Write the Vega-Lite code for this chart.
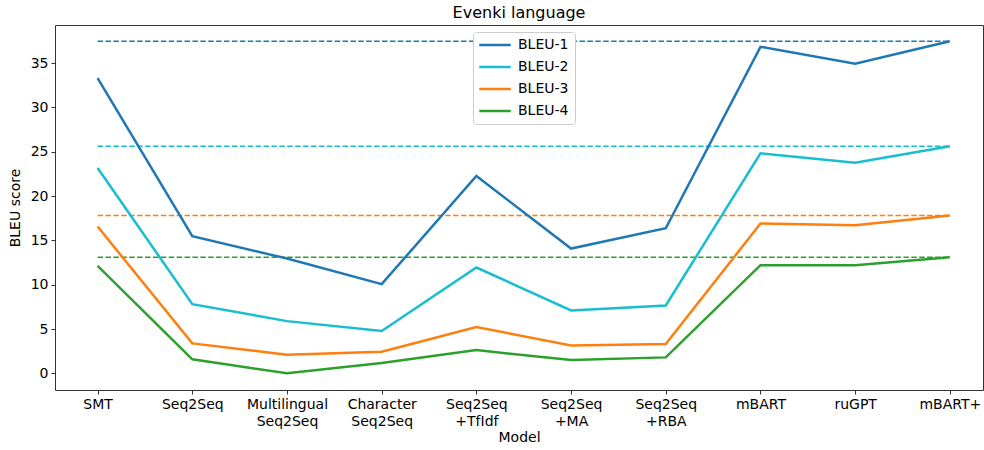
{
  "$schema": "https://vega.github.io/schema/vega-lite/v6.json",
  "width": 928,
  "height": 365,
  "autosize": "none",
  "padding": {"left": 55, "top": 25, "right": 1, "bottom": 60},
  "background": "white",
  "title": {"text": "Evenki language", "font": "DejaVu Sans", "fontSize": 16, "fontWeight": "normal", "color": "black", "offset": 4},
  "config": {
    "view": {"stroke": "#333", "strokeWidth": 1},
    "axis": {"grid": false, "labelFont": "DejaVu Sans", "labelFontSize": 14, "labelColor": "black", "titleFont": "DejaVu Sans", "titleFontSize": 14, "titleFontWeight": "normal", "titleColor": "black", "tickColor": "#333", "tickSize": 4, "domain": false, "labelPadding": 3}
  },
  "datasets": {
    "scores": [
      {"model": 0, "series": "BLEU-1", "value": 33.3},
      {"model": 1, "series": "BLEU-1", "value": 15.47},
      {"model": 2, "series": "BLEU-1", "value": 12.95},
      {"model": 3, "series": "BLEU-1", "value": 10.06},
      {"model": 4, "series": "BLEU-1", "value": 22.26},
      {"model": 5, "series": "BLEU-1", "value": 14.08},
      {"model": 6, "series": "BLEU-1", "value": 16.37},
      {"model": 7, "series": "BLEU-1", "value": 36.84},
      {"model": 8, "series": "BLEU-1", "value": 34.92},
      {"model": 9, "series": "BLEU-1", "value": 37.47},
      {"model": 0, "series": "BLEU-2", "value": 23.17},
      {"model": 1, "series": "BLEU-2", "value": 7.81},
      {"model": 2, "series": "BLEU-2", "value": 5.89},
      {"model": 3, "series": "BLEU-2", "value": 4.77},
      {"model": 4, "series": "BLEU-2", "value": 11.94},
      {"model": 5, "series": "BLEU-2", "value": 7.1},
      {"model": 6, "series": "BLEU-2", "value": 7.66},
      {"model": 7, "series": "BLEU-2", "value": 24.82},
      {"model": 8, "series": "BLEU-2", "value": 23.77},
      {"model": 9, "series": "BLEU-2", "value": 25.62},
      {"model": 0, "series": "BLEU-3", "value": 16.56},
      {"model": 1, "series": "BLEU-3", "value": 3.38},
      {"model": 2, "series": "BLEU-3", "value": 2.1},
      {"model": 3, "series": "BLEU-3", "value": 2.43},
      {"model": 4, "series": "BLEU-3", "value": 5.22},
      {"model": 5, "series": "BLEU-3", "value": 3.15},
      {"model": 6, "series": "BLEU-3", "value": 3.3},
      {"model": 7, "series": "BLEU-3", "value": 16.9},
      {"model": 8, "series": "BLEU-3", "value": 16.71},
      {"model": 9, "series": "BLEU-3", "value": 17.8},
      {"model": 0, "series": "BLEU-4", "value": 12.12},
      {"model": 1, "series": "BLEU-4", "value": 1.58},
      {"model": 2, "series": "BLEU-4", "value": 0.0},
      {"model": 3, "series": "BLEU-4", "value": 1.16},
      {"model": 4, "series": "BLEU-4", "value": 2.62},
      {"model": 5, "series": "BLEU-4", "value": 1.5},
      {"model": 6, "series": "BLEU-4", "value": 1.8},
      {"model": 7, "series": "BLEU-4", "value": 12.2},
      {"model": 8, "series": "BLEU-4", "value": 12.2},
      {"model": 9, "series": "BLEU-4", "value": 13.1}
    ],
    "best": [
      {"series": "BLEU-1", "value": 37.47, "start": 0, "end": 9},
      {"series": "BLEU-2", "value": 25.62, "start": 0, "end": 9},
      {"series": "BLEU-3", "value": 17.82, "start": 0, "end": 9},
      {"series": "BLEU-4", "value": 13.1, "start": 0, "end": 9}
    ]
  },
  "layer": [
    {
      "data": {"name": "best"},
      "mark": {"type": "rule", "strokeWidth": 1.5, "strokeDash": [5.5, 2.4]},
      "encoding": {
        "x": {"field": "start", "type": "quantitative"},
        "x2": {"field": "end"},
        "y": {"field": "value", "type": "quantitative"},
        "color": {"field": "series", "type": "nominal"}
      }
    },
    {
      "data": {"name": "scores"},
      "mark": {"type": "line", "strokeWidth": 2.5},
      "encoding": {
        "x": {
          "field": "model", "type": "quantitative",
          "scale": {"domain": [-0.45, 9.35], "nice": false, "zero": false},
          "axis": {
            "title": "Model", "values": [0,1,2,3,4,5,6,7,8,9],
            "labelExpr": "[['SMT'],['Seq2Seq'],['Multilingual','Seq2Seq'],['Character','Seq2Seq'],['Seq2Seq','+TfIdf'],['Seq2Seq','+MA'],['Seq2Seq','+RBA'],['mBART'],['ruGPT'],['mBART+']][datum.value]",
            "labelLineHeight": 17, "labelBaseline": "top", "titlePadding": 2
          }
        },
        "y": {
          "field": "value", "type": "quantitative",
          "scale": {"domain": [-1.88, 39.3], "nice": false, "zero": false},
          "axis": {"title": "BLEU score", "values": [0,5,10,15,20,25,30,35], "titlePadding": 8}
        },
        "color": {
          "field": "series", "type": "nominal",
          "scale": {"domain": ["BLEU-1","BLEU-2","BLEU-3","BLEU-4"], "range": ["#1f77b4","#17becf","#ff7f0e","#2ca02c"]},
          "legend": {
            "title": null, "orient": "none", "legendX": 418, "legendY": 7,
            "symbolType": "M-3,0H3", "symbolSize": 110, "symbolStrokeWidth": 2.5, "symbolOffset": 9,
            "labelFont": "DejaVu Sans", "labelFontSize": 14, "labelColor": "black", "labelOffset": 16,
            "padding": 6, "rowPadding": 8, "strokeColor": "#ccc", "fillColor": "white", "cornerRadius": 3
          }
        }
      }
    }
  ]
}
